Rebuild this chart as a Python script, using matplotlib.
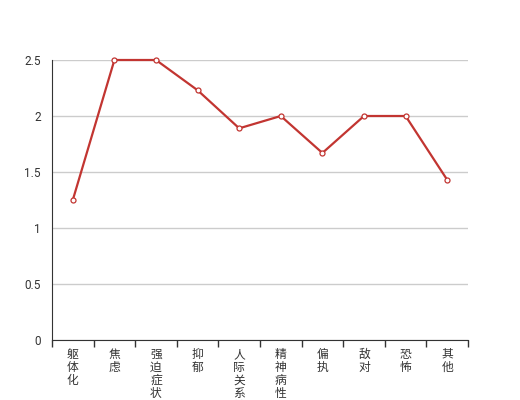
import matplotlib
matplotlib.use("Agg")
import matplotlib.pyplot as plt
from matplotlib.ticker import FixedLocator, NullFormatter

plt.rcParams['font.family'] = ['Noto Sans CJK SC', 'DejaVu Sans']

categories = ['躯体化', '焦虑', '强迫症状', '抑郁', '人际关系敏感', '精神病性', '偏执', '敌对', '恐怖', '其他']
values = [1.25, 2.5, 2.5, 2.23, 1.89, 2.0, 1.67, 2.0, 2.0, 1.43]
yticks = [0, 0.5, 1, 1.5, 2, 2.5]
ytick_labels = ['0', '0.5', '1', '1.5', '2', '2.5']

fig = plt.figure(figsize=(5.2, 4.0), dpi=100)
ax = fig.add_axes([0.1, 0.15, 0.8, 0.70])

x = list(range(len(categories)))
ax.plot(x, values, color='#c23531', linewidth=1.6, marker='o', markersize=3.6,
        markerfacecolor='white', markeredgecolor='#c23531', markeredgewidth=0.9, zorder=3,
        clip_on=False)

ax.set_xlim(-0.5, len(categories) - 0.5)
ax.set_ylim(0, 2.5)
ax.set_yticks(yticks)
ax.set_yticklabels(ytick_labels, fontsize=8.5, color='#333333', family='Roboto')
ax.tick_params(axis='y', length=0, pad=8)

# category axis: ticks at boundaries, labels at centres
ax.xaxis.set_major_locator(FixedLocator([i - 0.5 for i in range(len(categories) + 1)]))
ax.xaxis.set_major_formatter(NullFormatter())
ax.tick_params(axis='x', length=5, width=1, color='#333333', direction='out')
for i, c in enumerate(categories):
    ax.text(i, -0.07, '\n'.join(c), ha='center', va='top', fontsize=8.5,
            color='#333333', linespacing=1.0, transform=ax.transData, clip_on=False)

ax.grid(axis='y', color='#cccccc', linewidth=1)
ax.set_axisbelow(True)
for s in ['top', 'right']:
    ax.spines[s].set_visible(False)
ax.spines['left'].set_color('#333333')
ax.spines['bottom'].set_color('#333333')

fig.savefig('out.png', dpi=100)
